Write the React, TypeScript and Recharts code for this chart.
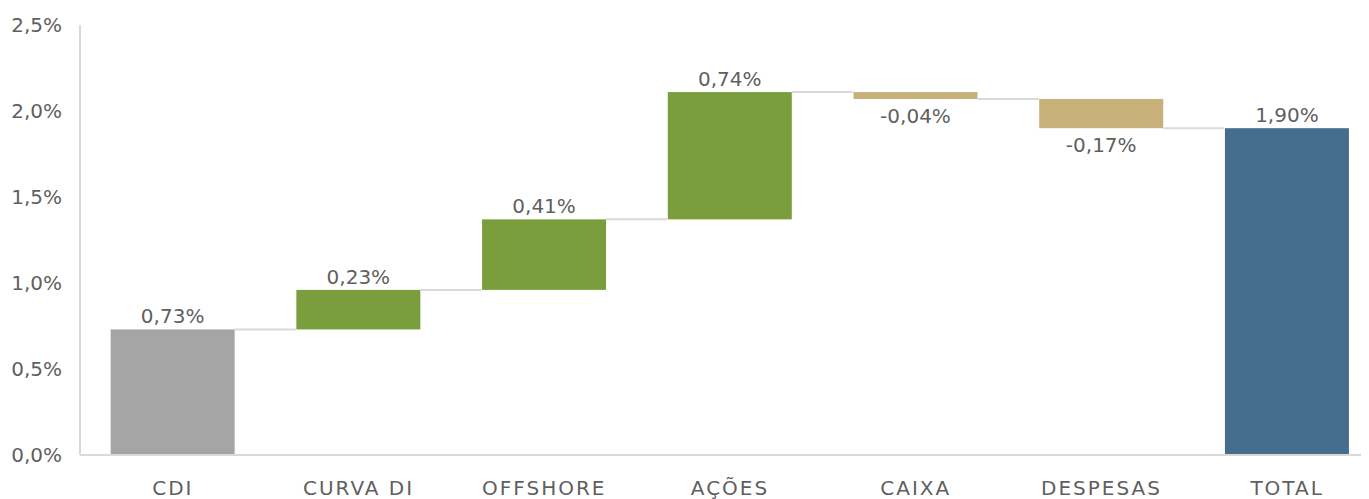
import React from 'react';
import { BarChart, Bar, XAxis, YAxis, Cell, LabelList } from 'recharts';

const categories = ['CDI', 'CURVA DI', 'OFFSHORE', 'AÇÕES', 'CAIXA', 'DESPESAS', 'TOTAL'];
const deltas = [0.73, 0.23, 0.41, 0.74, -0.04, -0.17, 1.9];
const isTotal = [true, false, false, false, false, false, true];
const labels = ['0,73%', '0,23%', '0,41%', '0,74%', '-0,04%', '-0,17%', '1,90%'];
const colors = ['#a5a5a5', '#7a9e3c', '#7a9e3c', '#7a9e3c', '#c8b07a', '#c8b07a', '#446d8e'];
const yTicks = [0, 0.5, 1, 1.5, 2, 2.5];

const GAP = 0.165;
const FONT = "'DejaVu Sans', sans-serif";
const TEXT = '#5f5f5f';

function buildData() {
  let running = 0;
  return categories.map((name, i) => {
    const d = deltas[i];
    let start: number, end: number;
    if (isTotal[i]) {
      start = 0;
      end = d;
    } else {
      start = running;
      end = running + d;
    }
    running = end;
    return {
      name,
      base: Math.min(start, end),
      value: Math.abs(end - start),
      negative: d < 0,
      end,
      label: labels[i],
      color: colors[i],
      last: i === categories.length - 1,
    };
  });
}

const data = buildData();

const BarShape = (props: any) => {
  const { x, y, width, height, payload } = props;
  const gap = (width * 2 * GAP) / (1 - 2 * GAP);
  const endY = payload.negative ? y + height : y;
  return (
    <g>
      <rect x={x} y={y} width={width} height={height} fill={payload.color} />
      {!payload.last && (
        <line x1={x + width} x2={x + width + gap} y1={endY} y2={endY} stroke="#d9d9d9" strokeWidth={2} />
      )}
    </g>
  );
};

const renderLabel = (props: any) => {
  const { x, y, width, height, index } = props;
  const item = data[index];
  const cx = x + width / 2;
  if (item.negative) {
    return (
      <text x={cx} y={y + height + 24} textAnchor="middle" fill={TEXT} fontSize={20} fontFamily={FONT}>
        {item.label}
      </text>
    );
  }
  return (
    <text x={cx} y={y - 6} textAnchor="middle" fill={TEXT} fontSize={20} fontFamily={FONT}>
      {item.label}
    </text>
  );
};

const fmt = (v: number) => v.toFixed(1).replace('.', ',') + '%';

export default function App() {
  return (
    <div style={{ width: 1361, height: 491, overflow: 'hidden', background: '#fff' }}>
      <BarChart
        width={1372}
        height={491}
        data={data}
        margin={{ top: 17, right: 0, bottom: 0, left: 0 }}
        barCategoryGap={`${GAP * 100}%`}
      >
        <XAxis
          dataKey="name"
          height={44}
          axisLine={{ stroke: '#d9d9d9', strokeWidth: 2 }}
          tickLine={false}
          tickSize={0}
          tickMargin={26}
          tick={{ fill: TEXT, fontSize: 20, fontFamily: FONT, letterSpacing: 2 }}
          interval={0}
        />
        <YAxis
          width={72}
          domain={[0, 2.5]}
          ticks={yTicks}
          axisLine={{ stroke: '#d9d9d9', strokeWidth: 2 }}
          tickLine={false}
          tickSize={0}
          tickMargin={18}
          tickFormatter={fmt}
          tick={{ fill: TEXT, fontSize: 20, fontFamily: FONT }}
        />
        <Bar dataKey="base" stackId="w" fill="transparent" isAnimationActive={false} />
        <Bar dataKey="value" stackId="w" isAnimationActive={false} shape={BarShape}>
          {data.map((d, i) => (
            <Cell key={i} fill={d.color} />
          ))}
          <LabelList dataKey="value" content={renderLabel} />
        </Bar>
      </BarChart>
    </div>
  );
}
